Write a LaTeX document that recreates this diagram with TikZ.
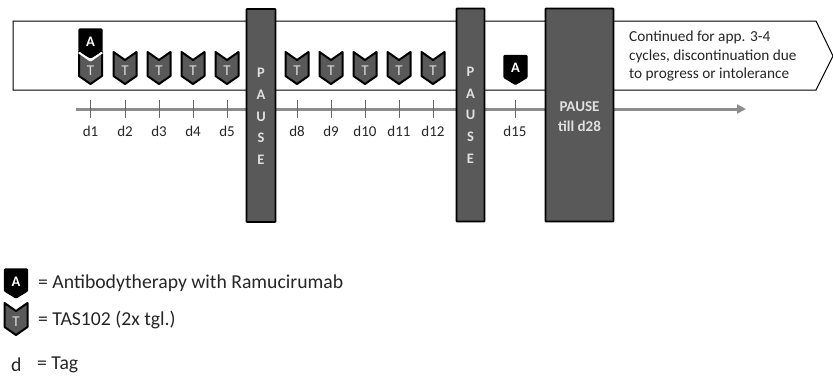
\documentclass[tikz,border=0pt]{standalone}
\usepackage{fontspec}
\setmainfont{Carlito}
\usetikzlibrary{arrows.meta}
\definecolor{dgray}{HTML}{595959}
\definecolor{axisgray}{HTML}{8C8C8C}
\definecolor{tickgray}{HTML}{666666}
\definecolor{txt}{HTML}{262626}
\tikzset{
  pausebox/.style={draw=black,fill=dgray,line width=1.6pt,rounded corners=0.6pt},
  pauselabel/.style={text=white!88!black,font=\fontsize{14.5}{21.7}\selectfont\bfseries,align=center,inner sep=0pt},
  daylabel/.style={text=txt,font=\fontsize{15}{17}\selectfont,inner sep=0pt},
  legendlabel/.style={text=txt,font=\fontsize{19.7}{22}\selectfont,inner sep=0pt,anchor=west},
  tshape/.style={draw=black,fill=dgray,line width=2pt,line join=round},
  ashape/.style={draw=black,fill=black,line width=1.2pt,line join=round,rounded corners=0.8pt},
  tletter/.style={text=white!85!black,font=\fontsize{15}{17}\selectfont,inner sep=0pt},
  aletter/.style={text=white,font=\fontsize{14.5}{17}\selectfont\bfseries,inner sep=0pt},
}
\newcommand{\tmark}[3]{% name, cx, top y
  \path[tshape] (#2-11.5,#3) -- (#2,#3+8) -- (#2+11.5,#3) -- (#2+11.5,#3+24) -- (#2,#3+32) -- (#2-11.5,#3+24) -- cycle;
  \node[tletter] (#1) at (#2,#3+19) {T};
}
\newcommand{\amark}[3]{%
  \path[ashape] (#2-11.5,#3) -- (#2+11.5,#3) -- (#2+11.5,#3+22) -- (#2,#3+29) -- (#2-11.5,#3+22) -- cycle;
  \node[aletter] (#1) at (#2,#3+12.5) {A};
}
\begin{document}
\begin{tikzpicture}[x=1pt,y=-1pt]
\useasboundingbox (0,0) rectangle (833,376);
% banner
\draw[black,line width=1pt,fill=white] (13,21) -- (816,21) -- (833,56) -- (816,90) -- (13,90) -- cycle;
% axis
\coordinate (axstart) at (76,109);
\coordinate (axend) at (746,109);
\draw[axisgray,line width=3pt,-{Triangle[length=9pt,width=9pt]}] (axstart) -- (axend);
% days
\foreach \n/\x in {1/90.5,2/125,3/159,4/193,5/227,8/297,9/331,10/365,11/399,12/433,15/515}{
  \coordinate (tt\n) at (\x,100);
  \coordinate (tb\n) at (\x,118);
  \draw[tickgray,line width=1pt] (tt\n) -- (tb\n);
  \node[daylabel] (d\n) at (\x,131) {d\n};
}
% T marks
\foreach \n/\x in {1/90.5,2/125,3/159,4/193,5/227,8/297,9/331,10/365,11/399,12/433}{
  \tmark{t\n}{\x}{52}
}
% A on d1
\path[draw=white,line width=3pt,line join=round] (79,52) -- (90.5,60) -- (102,52);
\amark{a1}{90.5}{29}
\draw[white,line width=1.2pt] (79.5,52.5) -- (90.5,60.5) -- (101.5,52.5);
\amark{a15}{515.5}{55.5}
% pauses
\node[pausebox,minimum width=29pt,minimum height=213pt,inner sep=0pt] (p1) at (261,115.5) {};
\node[pausebox,minimum width=28pt,minimum height=213pt,inner sep=0pt] (p2) at (470.5,115) {};
\node[pausebox,minimum width=68pt,minimum height=213pt,inner sep=0pt] (p3) at (579.5,115) {};
\node[pauselabel] (p1t) at (261,116.5) {P\\A\\U\\S\\E};
\node[pauselabel] (p2t) at (470.5,115) {P\\A\\U\\S\\E};
\node[pauselabel,font=\fontsize{15}{20}\selectfont\bfseries] (p3t) at (579.5,117) {PAUSE\\till d28};
% banner text
\node[text=txt,font=\fontsize{15.3}{18.7}\selectfont,align=left,anchor=north west,inner sep=0pt] (cont) at (629,30.5) {Continued for app. 3-4\\cycles, discontinuation due\\to progress or intolerance};
% legend
\amark{la}{16}{269}
\node[legendlabel] (lat) at (38,283) {= Antibodytherapy with Ramucirumab};
\tmark{lt}{16}{303}
\node[legendlabel] (ltt) at (38,320) {= TAS102 (2x tgl.)};
\node[legendlabel] (ld) at (11,364.5) {d};
\node[legendlabel] (ldt) at (37,364.5) {= Tag};
\end{tikzpicture}
\end{document}
